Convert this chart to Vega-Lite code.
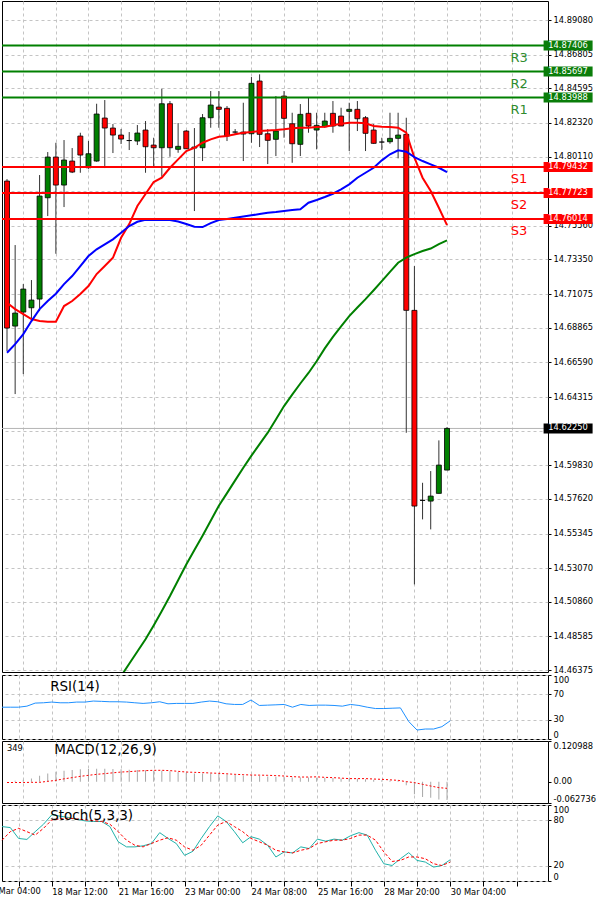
{
"$schema": "https://vega.github.io/schema/vega-lite/v6.json",
"padding": {"left": -16, "right": 3, "top": 0, "bottom": 0},
"spacing": 0,
"background": "#ffffff",
"config": {
 "view": {"stroke": "#000000", "strokeWidth": 1},
 "font": "DejaVu Sans",
 "axis": {"labelFont": "DejaVu Sans", "labelFontSize": 8.3, "labelColor": "#000000", "tickColor": "#000000", "gridColor": "#c4c4c4", "gridDash": [3, 3], "gridWidth": 1, "title": null, "labelOverlap": false, "tickCount": 100},
 "text": {"font": "DejaVu Sans"}
},
"datasets": {
 "candles": [
  {"t":0,"o":14.78502,"h":14.78633,"l":14.67333,"c":14.68844},
  {"t":1,"o":14.68975,"h":14.74297,"l":14.64508,"c":14.6983},
  {"t":2,"o":14.69895,"h":14.71735,"l":14.65822,"c":14.71406},
  {"t":3,"o":14.70178,"h":14.71998,"l":14.69435,"c":14.70684},
  {"t":4,"o":14.70749,"h":14.78896,"l":14.69961,"c":14.77516},
  {"t":5,"o":14.77405,"h":14.80407,"l":14.76202,"c":14.80079},
  {"t":6,"o":14.80079,"h":14.81018,"l":14.73726,"c":14.78239},
  {"t":7,"o":14.78239,"h":14.81196,"l":14.76794,"c":14.79882},
  {"t":8,"o":14.79816,"h":14.8067,"l":14.79027,"c":14.79093},
  {"t":9,"o":14.81458,"h":14.81675,"l":14.79047,"c":14.8021},
  {"t":10,"o":14.79376,"h":14.8113,"l":14.7931,"c":14.80296},
  {"t":11,"o":14.79816,"h":14.83581,"l":14.7977,"c":14.82904},
  {"t":12,"o":14.82641,"h":14.83824,"l":14.79356,"c":14.81984},
  {"t":13,"o":14.81984,"h":14.82247,"l":14.80342,"c":14.81524},
  {"t":14,"o":14.81524,"h":14.81918,"l":14.80933,"c":14.81261},
  {"t":15,"o":14.81163,"h":14.81721,"l":14.80539,"c":14.81163},
  {"t":16,"o":14.8113,"h":14.82181,"l":14.80867,"c":14.81656},
  {"t":17,"o":14.81853,"h":14.82444,"l":14.79047,"c":14.80756},
  {"t":18,"o":14.80867,"h":14.81347,"l":14.79422,"c":14.8069},
  {"t":19,"o":14.8069,"h":14.84566,"l":14.78785,"c":14.83581},
  {"t":20,"o":14.83581,"h":14.83758,"l":14.80099,"c":14.8069},
  {"t":21,"o":14.80585,"h":14.82313,"l":14.80361,"c":14.80782},
  {"t":22,"o":14.81787,"h":14.81853,"l":14.80604,"c":14.80624},
  {"t":23,"o":14.80736,"h":14.81984,"l":14.76531,"c":14.8067},
  {"t":24,"o":14.8069,"h":14.82904,"l":14.79816,"c":14.82661},
  {"t":25,"o":14.82661,"h":14.84415,"l":14.82004,"c":14.83495},
  {"t":26,"o":14.83364,"h":14.84415,"l":14.82004,"c":14.83213},
  {"t":27,"o":14.83278,"h":14.83429,"l":14.8113,"c":14.81458},
  {"t":28,"o":14.81721,"h":14.81918,"l":14.8159,"c":14.81721},
  {"t":29,"o":14.81721,"h":14.83646,"l":14.79816,"c":14.8159},
  {"t":30,"o":14.8161,"h":14.85335,"l":14.81018,"c":14.84921},
  {"t":31,"o":14.85072,"h":14.85512,"l":14.80736,"c":14.8157},
  {"t":32,"o":14.8161,"h":14.81918,"l":14.79619,"c":14.81176},
  {"t":33,"o":14.81242,"h":14.84086,"l":14.80144,"c":14.81787},
  {"t":34,"o":14.84086,"h":14.84415,"l":14.81347,"c":14.82621},
  {"t":35,"o":14.82267,"h":14.82989,"l":14.79704,"c":14.80953},
  {"t":36,"o":14.80913,"h":14.83561,"l":14.80144,"c":14.82884},
  {"t":37,"o":14.8295,"h":14.83975,"l":14.81675,"c":14.82115},
  {"t":38,"o":14.81853,"h":14.82989,"l":14.80585,"c":14.82161},
  {"t":39,"o":14.8207,"h":14.82989,"l":14.82004,"c":14.82444},
  {"t":40,"o":14.8295,"h":14.83758,"l":14.81675,"c":14.82115},
  {"t":41,"o":14.82772,"h":14.83318,"l":14.82115,"c":14.82115},
  {"t":42,"o":14.83081,"h":14.83646,"l":14.80473,"c":14.83213},
  {"t":43,"o":14.83213,"h":14.83758,"l":14.81787,"c":14.82595},
  {"t":44,"o":14.82661,"h":14.82772,"l":14.80473,"c":14.81636},
  {"t":45,"o":14.81853,"h":14.82247,"l":14.80953,"c":14.80979},
  {"t":46,"o":14.81064,"h":14.81347,"l":14.80539,"c":14.81064},
  {"t":47,"o":14.81084,"h":14.82989,"l":14.80953,"c":14.81307},
  {"t":48,"o":14.81307,"h":14.82989,"l":14.79993,"c":14.81524},
  {"t":49,"o":14.8157,"h":14.82661,"l":14.61965,"c":14.70007},
  {"t":50,"o":14.70007,"h":14.72917,"l":14.52005,"c":14.57149},
  {"t":51,"o":14.57524,"h":14.5868,"l":14.56276,"c":14.57524},
  {"t":52,"o":14.57478,"h":14.59449,"l":14.55618,"c":14.57806},
  {"t":53,"o":14.57984,"h":14.61466,"l":14.57984,"c":14.59843},
  {"t":54,"o":14.59515,"h":14.6234,"l":14.59515,"c":14.6225}
 ],
 "ma": [
  {"t":0,"r":14.70506,"b":14.67221},
  {"t":1,"r":14.70092,"b":14.67793},
  {"t":2,"r":14.69764,"b":14.68451},
  {"t":3,"r":14.69435,"b":14.69304},
  {"t":4,"r":14.69304,"b":14.70092},
  {"t":5,"r":14.69258,"b":14.70618},
  {"t":6,"r":14.69258,"b":14.71098},
  {"t":7,"r":14.70289,"b":14.71735},
  {"t":8,"r":14.70618,"b":14.72261},
  {"t":9,"r":14.71078,"b":14.72917},
  {"t":10,"r":14.71603,"b":14.73574},
  {"t":11,"r":14.72392,"b":14.74015},
  {"t":12,"r":14.72917,"b":14.74343},
  {"t":13,"r":14.73463,"b":14.74672},
  {"t":14,"r":14.74777,"b":14.75105,"g":14.4598},
  {"t":15,"r":14.75677,"b":14.75545,"g":14.46795},
  {"t":16,"r":14.76859,"b":14.75828,"g":14.47596},
  {"t":17,"r":14.77648,"b":14.75959,"g":14.48398},
  {"t":18,"r":14.78436,"b":14.75945,"g":14.49311},
  {"t":19,"r":14.78719,"b":14.75945,"g":14.50264},
  {"t":20,"r":14.79376,"b":14.75945,"g":14.51243},
  {"t":21,"r":14.79928,"b":14.75841,"g":14.52281},
  {"t":22,"r":14.80473,"b":14.75677,"g":14.53313},
  {"t":23,"r":14.8069,"b":14.75499,"g":14.54259},
  {"t":24,"r":14.81018,"b":14.7548,"g":14.55199},
  {"t":25,"r":14.81242,"b":14.75743,"g":14.56183},
  {"t":26,"r":14.81413,"b":14.75945,"g":14.57176},
  {"t":27,"r":14.81458,"b":14.76005,"g":14.58},
  {"t":28,"r":14.8157,"b":14.76091,"g":14.58838},
  {"t":29,"r":14.81675,"b":14.7617,"g":14.59672},
  {"t":30,"r":14.81721,"b":14.76249,"g":14.60467},
  {"t":31,"r":14.81787,"b":14.76334,"g":14.61223},
  {"t":32,"r":14.8182,"b":14.7642,"g":14.61973},
  {"t":33,"r":14.81853,"b":14.76466,"g":14.62839},
  {"t":34,"r":14.81899,"b":14.76531,"g":14.63719},
  {"t":35,"r":14.81965,"b":14.76597,"g":14.64469},
  {"t":36,"r":14.82004,"b":14.76643,"g":14.65204},
  {"t":37,"r":14.82004,"b":14.77077,"g":14.65894},
  {"t":38,"r":14.8205,"b":14.77255,"g":14.66663},
  {"t":39,"r":14.8207,"b":14.77451,"g":14.67507},
  {"t":40,"r":14.82161,"b":14.77668,"g":14.6827},
  {"t":41,"r":14.82267,"b":14.77957,"g":14.68949},
  {"t":42,"r":14.82332,"b":14.78286,"g":14.69633},
  {"t":43,"r":14.82332,"b":14.78719,"g":14.70198},
  {"t":44,"r":14.82293,"b":14.79047,"g":14.70743},
  {"t":45,"r":14.82115,"b":14.79376,"g":14.71328},
  {"t":46,"r":14.8207,"b":14.79862,"g":14.71932},
  {"t":47,"r":14.8205,"b":14.80258,"g":14.72536},
  {"t":48,"r":14.82004,"b":14.80519,"g":14.73134},
  {"t":49,"r":14.81675,"b":14.80427,"g":14.73476},
  {"t":50,"r":14.80033,"b":14.80079,"g":14.73706},
  {"t":51,"r":14.78719,"b":14.79816,"g":14.73903},
  {"t":52,"r":14.77845,"b":14.79599,"g":14.74067},
  {"t":53,"r":14.76748,"b":14.79376,"g":14.74363},
  {"t":54,"r":14.75611,"b":14.79093,"g":14.74606}
 ],
 "tags": [
  {"name":"R3","price":14.87406,"kind":"R"},
  {"name":"R2","price":14.85697,"kind":"R"},
  {"name":"R1","price":14.83988,"kind":"R"},
  {"name":"S1","price":14.79432,"kind":"S"},
  {"name":"S2","price":14.77723,"kind":"S"},
  {"name":"S3","price":14.76014,"kind":"S"},
  {"name":"","price":14.6225,"kind":"C"}
 ],
 "rsi": [
  {"t":0,"v":49.7},{"t":1,"v":49.7},{"t":2,"v":49.7},{"t":3,"v":51.3},{"t":4,"v":56.1},{"t":5,"v":56.6},{"t":6,"v":57.7},{"t":7,"v":56.6},{"t":8,"v":56.6},{"t":9,"v":57.7},
  {"t":10,"v":57.7},{"t":11,"v":59.3},{"t":12,"v":58.8},{"t":13,"v":58.2},{"t":14,"v":58.2},{"t":15,"v":57.7},{"t":16,"v":56.6},{"t":17,"v":55.6},{"t":18,"v":56.6},{"t":19,"v":58.2},
  {"t":20,"v":55},{"t":21,"v":55.6},{"t":22,"v":55.6},{"t":23,"v":55.6},{"t":24,"v":57.7},{"t":25,"v":59.3},{"t":26,"v":58.2},{"t":27,"v":55},{"t":28,"v":54},{"t":29,"v":54},
  {"t":30,"v":60.9},{"t":31,"v":52.4},{"t":32,"v":52.9},{"t":33,"v":53.4},{"t":34,"v":54},{"t":35,"v":49.7},{"t":36,"v":54},{"t":37,"v":52.4},{"t":38,"v":52.9},{"t":39,"v":52.9},
  {"t":40,"v":52.4},{"t":41,"v":51.3},{"t":42,"v":54},{"t":43,"v":52.4},{"t":44,"v":49.7},{"t":45,"v":47.6},{"t":46,"v":47.6},{"t":47,"v":48.1},{"t":48,"v":48.6},{"t":49,"v":27.3},
  {"t":50,"v":14},{"t":51,"v":15.6},{"t":52,"v":15.6},{"t":53,"v":19.3},{"t":54,"v":28.4}
 ],
 "macd": [
  {"t":0,"h":0.0,"s":-0.002},{"t":1,"h":0.003,"s":-0.002},{"t":2,"h":0.006,"s":-0.002},{"t":3,"h":0.01,"s":-0.0015},{"t":4,"h":0.018,"s":-0.0015},
  {"t":5,"h":0.025,"s":0.0015},{"t":6,"h":0.03,"s":0.0044},{"t":7,"h":0.033,"s":0.0089},{"t":8,"h":0.035,"s":0.0124},{"t":9,"h":0.037,"s":0.0163},
  {"t":10,"h":0.038,"s":0.0193},{"t":11,"h":0.039,"s":0.0222},{"t":12,"h":0.039,"s":0.0243},{"t":13,"h":0.038,"s":0.0267},{"t":14,"h":0.037,"s":0.029},
  {"t":15,"h":0.036,"s":0.0302},{"t":16,"h":0.035,"s":0.032},{"t":17,"h":0.034,"s":0.0332},{"t":18,"h":0.033,"s":0.0341},{"t":19,"h":0.033,"s":0.0341},
  {"t":20,"h":0.031,"s":0.0332},{"t":21,"h":0.029,"s":0.0311},{"t":22,"h":0.027,"s":0.029},{"t":23,"h":0.025,"s":0.0281},{"t":24,"h":0.025,"s":0.0273},
  {"t":25,"h":0.025,"s":0.0261},{"t":26,"h":0.024,"s":0.0252},{"t":27,"h":0.022,"s":0.0237},{"t":28,"h":0.02,"s":0.0222},{"t":29,"h":0.019,"s":0.0213},
  {"t":30,"h":0.02,"s":0.0201},{"t":31,"h":0.018,"s":0.0199},{"t":32,"h":0.016,"s":0.0193},{"t":33,"h":0.015,"s":0.0184},{"t":34,"h":0.015,"s":0.0172},
  {"t":35,"h":0.013,"s":0.0154},{"t":36,"h":0.013,"s":0.0142},{"t":37,"h":0.013,"s":0.0142},{"t":38,"h":0.012,"s":0.0148},{"t":39,"h":0.012,"s":0.0133},
  {"t":40,"h":0.011,"s":0.0124},{"t":41,"h":0.01,"s":0.011},{"t":42,"h":0.01,"s":0.0095},{"t":43,"h":0.009,"s":0.0095},{"t":44,"h":0.008,"s":0.0095},
  {"t":45,"h":0.006,"s":0.0083},{"t":46,"h":0.005,"s":0.0074},{"t":47,"h":0.004,"s":0.0059},{"t":48,"h":0.004,"s":0.0044},{"t":49,"h":-0.01,"s":0.0006},
  {"t":50,"h":-0.037,"s":-0.0024},{"t":51,"h":-0.045,"s":-0.0074},{"t":52,"h":-0.047,"s":-0.0124},{"t":53,"h":-0.052,"s":-0.0172},{"t":54,"h":-0.054,"s":-0.0193}
 ],
 "stoch": [
  {"t":0,"k":71.6,"d":53.7},{"t":1,"k":70.3,"d":64.9},{"t":2,"k":56,"d":69.3},{"t":3,"k":54.7,"d":64.9},{"t":4,"k":64.9,"d":60.4},
  {"t":5,"k":74.7,"d":69.3},{"t":6,"k":87.1,"d":80.4},{"t":7,"k":85.3,"d":81.6},{"t":8,"k":83.6,"d":82.7},{"t":9,"k":81.3,"d":81.6},
  {"t":10,"k":79.1,"d":80.4},{"t":11,"k":78.3,"d":79.3},{"t":12,"k":78.3,"d":78.3},{"t":13,"k":71.6,"d":74.7},{"t":14,"k":51.6,"d":64.9},
  {"t":15,"k":44.9,"d":53.7},{"t":16,"k":44.9,"d":47.1},{"t":17,"k":46.3,"d":44.9},{"t":18,"k":49.3,"d":49.3},{"t":19,"k":63.6,"d":53.7},
  {"t":20,"k":56,"d":56.9},{"t":21,"k":49.3,"d":53.7},{"t":22,"k":33.7,"d":44.9},{"t":23,"k":39.1,"d":40.4},{"t":24,"k":56,"d":47.1},
  {"t":25,"k":71.6,"d":60.4},{"t":26,"k":85.7,"d":73.7},{"t":27,"k":78.3,"d":78.3},{"t":28,"k":64.9,"d":71.6},{"t":29,"k":50.3,"d":64.9},
  {"t":30,"k":58.3,"d":56},{"t":31,"k":55.1,"d":51.6},{"t":32,"k":47.1,"d":47.1},{"t":33,"k":31.6,"d":40.4},{"t":34,"k":38.3,"d":38.3},
  {"t":35,"k":36.9,"d":36.9},{"t":36,"k":44.9,"d":40.4},{"t":37,"k":42.7,"d":42.7},{"t":38,"k":55.1,"d":49.3},{"t":39,"k":52.4,"d":51.6},
  {"t":40,"k":55.1,"d":53.7},{"t":41,"k":53.7,"d":53.7},{"t":42,"k":59.6,"d":56},{"t":43,"k":63.6,"d":60.4},{"t":44,"k":60.4,"d":60.4},
  {"t":45,"k":40.4,"d":53.7},{"t":46,"k":22.7,"d":38.3},{"t":47,"k":20.4,"d":25.7},{"t":48,"k":29.3,"d":27.1},{"t":49,"k":37.3,"d":31.6},
  {"t":50,"k":27.1,"d":31.6},{"t":51,"k":24.9,"d":29.3},{"t":52,"k":18.3,"d":22.7},{"t":53,"k":20.4,"d":20.4},{"t":54,"k":28,"d":24.9}
 ]
},
"vconcat": [
 {
  "width": 546, "height": 671,
  "layer": [
   {
    "data": {"name": "tags"},
    "transform": [{"filter": "datum.kind == 'C'"}],
    "mark": {"type": "rule", "color": "#b4b4b4", "strokeWidth": 1},
    "encoding": {"y": {"field": "price", "type": "quantitative"}}
   },
   {
    "data": {"name": "candles"},
    "mark": {"type": "rule", "color": "#333333", "strokeWidth": 1},
    "encoding": {
     "x": {"field": "t", "type": "quantitative", "scale": {"domain": [0, 65.78], "nice": false, "zero": false},
       "axis": {"values": [2,6,10,14,18,22,26,30,34,38,42,46,50,54,58,62], "tickCount": 100, "grid": true, "labels": false, "ticks": false, "domain": false, "labelPadding": 0, "tickSize": 0}},
     "y": {"field": "l", "type": "quantitative", "scale": {"domain": [14.4625, 14.9033], "nice": false, "zero": false},
       "axis": {"orient": "right", "values": [14.8908, 14.86805, 14.84595, 14.8232, 14.8011, 14.77835, 14.7556, 14.7335, 14.71075, 14.68865, 14.6659, 14.64315, 14.62105, 14.5983, 14.5762, 14.55345, 14.5307, 14.5086, 14.48585, 14.46375],
         "tickCount": 100,
         "labelExpr": "datum.value == 14.77835 || datum.value == 14.62105 ? '' : format(datum.value, '.5f')",
         "grid": true, "tickSize": 3, "labelPadding": 2, "domain": false, "labelFlush": false, "labelOverlap": false}},
     "y2": {"field": "h"}
    }
   },
   {
    "data": {"name": "candles"},
    "mark": {"type": "bar", "width": 5, "stroke": "#000000", "strokeWidth": 0.8},
    "encoding": {
     "x": {"field": "t", "type": "quantitative"},
     "y": {"field": "o", "type": "quantitative"},
     "y2": {"field": "c"},
     "color": {"condition": {"test": "datum.c >= datum.o", "value": "#008000"}, "value": "#ff0000"}
    }
   },
   {
    "data": {"name": "ma"},
    "transform": [{"fold": ["r", "b", "g"], "as": ["line", "v"]}],
    "mark": {"type": "line", "strokeWidth": 2, "clip": true},
    "encoding": {
     "x": {"field": "t", "type": "quantitative"},
     "y": {"field": "v", "type": "quantitative"},
     "color": {"field": "line", "type": "nominal", "scale": {"domain": ["r", "b", "g"], "range": ["#ff0000", "#0000ff", "#008000"]}, "legend": null}
    }
   },
   {
    "data": {"name": "tags"},
    "transform": [{"filter": "datum.kind != 'C'"}],
    "mark": {"type": "rule", "strokeWidth": 2},
    "encoding": {
     "y": {"field": "price", "type": "quantitative"},
     "color": {"condition": {"test": "datum.kind == 'R'", "value": "#008000"}, "value": "#ff0000"}
    }
   },
   {
    "data": {"name": "tags"},
    "transform": [{"filter": "datum.kind != 'C'"}],
    "mark": {"type": "text", "align": "center", "baseline": "middle", "dy": 12, "fontSize": 13},
    "encoding": {
     "x": {"datum": 62.85},
     "y": {"field": "price", "type": "quantitative"},
     "text": {"field": "name"},
     "color": {"condition": {"test": "datum.kind == 'R'", "value": "#2e8b2e"}, "value": "#ff0000"}
    }
   },
   {
    "data": {"name": "tags"},
    "mark": {"type": "point", "shape": "M-1,-0.2041H1V0.2041H-1Z", "size": 2401, "filled": true, "opacity": 1, "strokeWidth": 0},
    "encoding": {
     "x": {"datum": 68.86},
     "y": {"field": "price", "type": "quantitative"},
     "color": {"condition": [{"test": "datum.kind == 'R'", "value": "#0a7d0a"}, {"test": "datum.kind == 'S'", "value": "#ff0000"}], "value": "#000000"}
    }
   },
   {
    "data": {"name": "tags"},
    "mark": {"type": "text", "align": "center", "baseline": "middle", "fontSize": 8.3, "color": "#ffffff"},
    "encoding": {
     "x": {"datum": 68.86},
     "y": {"field": "price", "type": "quantitative"},
     "text": {"field": "price", "type": "quantitative", "format": ".5f"}
    }
   }
  ]
 },
 {
  "width": 546, "height": 64,
  "layer": [
   {
    "data": {"name": "rsi"},
    "mark": {"type": "line", "color": "#1e90ff", "strokeWidth": 1},
    "encoding": {
     "x": {"field": "t", "type": "quantitative", "scale": {"domain": [0, 65.78], "nice": false, "zero": false},
       "axis": {"values": [2,6,10,14,18,22,26,30,34,38,42,46,50,54,58,62], "tickCount": 100, "grid": true, "labels": false, "ticks": false, "domain": false, "labelPadding": 0, "tickSize": 0}},
     "y": {"field": "v", "type": "quantitative", "scale": {"domain": [0, 100], "nice": false},
       "axis": {"orient": "right", "values": [100, 70, 30, 0], "tickCount": 100, "labelFlush": true, "labelOverlap": false, "grid": true, "tickSize": 3, "labelPadding": 2, "domain": false}}
    }
   },
   {
    "data": {"values": [{"label": "RSI(14)"}]},
    "mark": {"type": "text", "align": "left", "baseline": "middle", "fontSize": 13.5, "color": "#000000"},
    "encoding": {"x": {"datum": 5.8}, "y": {"datum": 81}, "text": {"field": "label"}}
   }
  ]
 },
 {
  "width": 546, "height": 62,
  "layer": [
   {
    "data": {"name": "macd"},
    "mark": {"type": "bar", "width": 1, "color": "#a8a8a8"},
    "encoding": {
     "x": {"field": "t", "type": "quantitative", "scale": {"domain": [0, 65.78], "nice": false, "zero": false},
       "axis": {"values": [2,6,10,14,18,22,26,30,34,38,42,46,50,54,58,62], "tickCount": 100, "grid": true, "labels": false, "ticks": false, "domain": false, "labelPadding": 0, "tickSize": 0}},
     "y": {"field": "h", "type": "quantitative", "scale": {"domain": [-0.062736, 0.120988], "nice": false, "zero": false},
       "axis": {"orient": "right", "values": [0.120988, 0, -0.062736], "tickCount": 100, "labelExpr": "datum.value == 0 ? '0.00' : toString(datum.value)", "labelFlush": true, "labelOverlap": false, "grid": false, "tickSize": 3, "labelPadding": 2, "domain": false}},
     "y2": {"datum": 0}
    }
   },
   {
    "data": {"name": "macd"},
    "mark": {"type": "line", "color": "#ff0000", "strokeWidth": 1, "strokeDash": [2, 2]},
    "encoding": {
     "x": {"field": "t", "type": "quantitative"},
     "y": {"field": "s", "type": "quantitative"}
    }
   },
   {
    "data": {"values": [{"label": "MACD(12,26,9)"}]},
    "mark": {"type": "text", "align": "left", "baseline": "middle", "fontSize": 13.5, "color": "#000000"},
    "encoding": {"x": {"datum": 5.8}, "y": {"datum": 0.094}, "text": {"field": "label"}}
   },
   {
    "data": {"values": [{"label": "349"}]},
    "mark": {"type": "text", "align": "left", "baseline": "middle", "fontSize": 8.3, "color": "#000000"},
    "encoding": {"x": {"datum": 0}, "y": {"datum": 0.097}, "text": {"field": "label"}}
   }
  ]
 },
 {
  "width": 546, "height": 76,
  "layer": [
   {
    "data": {"name": "stoch"},
    "mark": {"type": "line", "color": "#20b2aa", "strokeWidth": 1},
    "encoding": {
     "x": {"field": "t", "type": "quantitative", "scale": {"domain": [0, 65.78], "nice": false, "zero": false},
       "axis": {"values": [2,6,10,14,18,22,26,30,34,38,42,46,50,54,58,62], "tickCount": 100, "grid": true, "domain": false, "ticks": true, "tickSize": 5,
         "labelAlign": "left", "labelBaseline": "top", "labelPadding": 1, "labelOffset": 0, "labelFlush": false, "labelBound": false, "labelOverlap": false,
         "labelExpr": "datum.value == 6 ? '18 Mar 12:00' : datum.value == 14 ? '21 Mar 16:00' : datum.value == 22 ? '23 Mar 00:00' : datum.value == 30 ? '24 Mar 08:00' : datum.value == 38 ? '25 Mar 16:00' : datum.value == 46 ? '28 Mar 20:00' : datum.value == 54 ? '30 Mar 04:00' : ''"}},
     "y": {"field": "k", "type": "quantitative", "scale": {"domain": [0, 100], "nice": false},
       "axis": {"orient": "right", "values": [100, 80, 20, 0], "tickCount": 100, "labelFlush": true, "labelOverlap": false, "grid": true, "tickSize": 3, "labelPadding": 2, "domain": false}}
    }
   },
   {
    "data": {"name": "stoch"},
    "mark": {"type": "line", "color": "#ff0000", "strokeWidth": 1, "strokeDash": [3, 2]},
    "encoding": {
     "x": {"field": "t", "type": "quantitative"},
     "y": {"field": "d", "type": "quantitative"}
    }
   },
   {
    "data": {"values": [{"label": "Stoch(5,3,3)"}]},
    "mark": {"type": "text", "align": "left", "baseline": "middle", "fontSize": 13.5, "color": "#000000"},
    "encoding": {"x": {"datum": 5.8}, "y": {"datum": 86}, "text": {"field": "label"}}
   },
   {
    "data": {"values": [{"t": -2, "label": "17 Mar 04:00"}]},
    "mark": {"type": "text", "align": "left", "baseline": "top", "fontSize": 8.3, "color": "#000000"},
    "encoding": {"x": {"field": "t", "type": "quantitative"}, "y": {"datum": -7.9}, "text": {"field": "label"}}
   }
  ]
 }
]
}
